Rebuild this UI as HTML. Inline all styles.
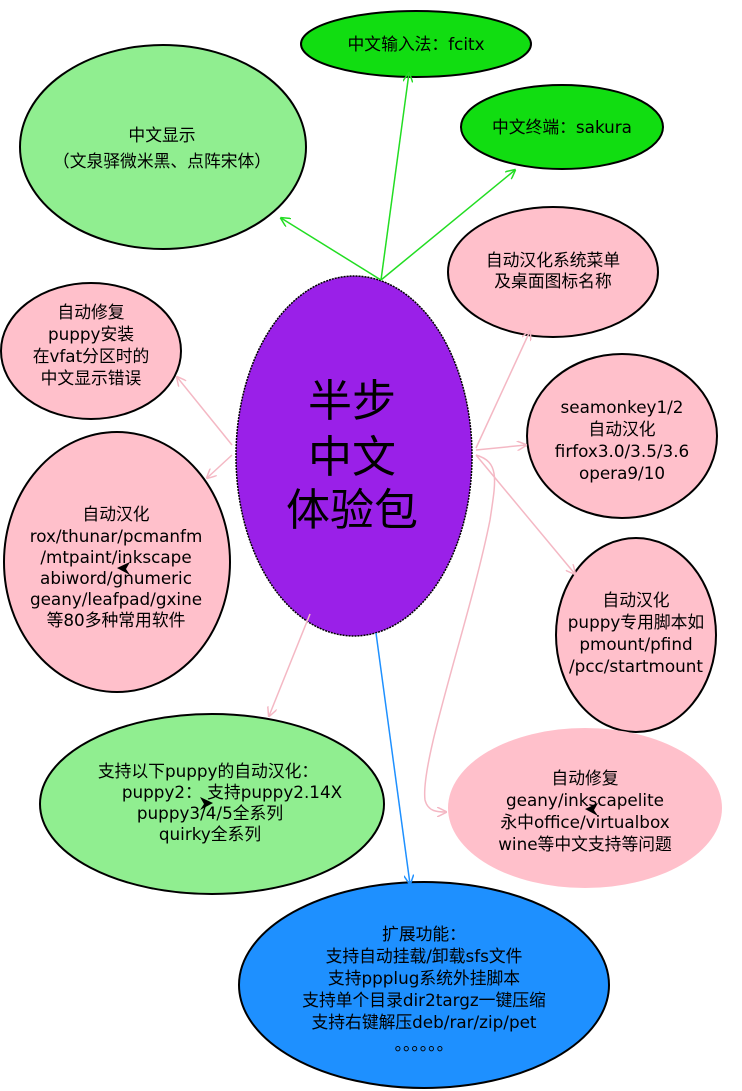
<!DOCTYPE html>
<html><head><meta charset="utf-8"><style>
html,body{margin:0;padding:0;background:#fff;}
svg{display:block;}
text{font-family:"DejaVu Sans","Noto Sans CJK SC",sans-serif;font-size:16.8px;fill:#000;text-anchor:middle;}
</style></head><body>
<svg width="742" height="1091" viewBox="0 0 742 1091" xmlns="http://www.w3.org/2000/svg">
<defs>
<marker id="ag" markerWidth="10" markerHeight="10" refX="9" refY="5" orient="auto" markerUnits="userSpaceOnUse"><path d="M0,0 L10,5 L0,10" fill="none" stroke="#22dd22" stroke-width="1.5"/></marker>
<marker id="ap" markerWidth="10" markerHeight="10" refX="9" refY="5" orient="auto" markerUnits="userSpaceOnUse"><path d="M0,0 L10,5 L0,10" fill="none" stroke="#f4b8c4" stroke-width="1.5"/></marker>
<marker id="ab" markerWidth="10" markerHeight="10" refX="9" refY="5" orient="auto" markerUnits="userSpaceOnUse"><path d="M0,0 L10,5 L0,10" fill="none" stroke="#1e90ff" stroke-width="1.5"/></marker>
</defs>
<g stroke="#000" stroke-width="2">
<ellipse cx="416" cy="44" rx="115" ry="33" fill="#11dd11"/>
<ellipse cx="163" cy="147" rx="143" ry="102" fill="#90ee90"/>
<ellipse cx="562" cy="127" rx="101" ry="42" fill="#11dd11"/>
<ellipse cx="553" cy="272" rx="105" ry="65" fill="#ffc0cb"/>
<ellipse cx="91" cy="351" rx="90" ry="68" fill="#ffc0cb"/>
<ellipse cx="622" cy="436" rx="95" ry="82" fill="#ffc0cb"/>
<ellipse cx="117" cy="562" rx="113" ry="130" fill="#ffc0cb"/>
<ellipse cx="636" cy="635" rx="80" ry="97" fill="#ffc0cb"/>
<ellipse cx="212" cy="804" rx="172" ry="90" fill="#90ee90"/>
<ellipse cx="585" cy="808" rx="137" ry="80" fill="#ffc0cb" stroke="none"/>
<ellipse cx="424" cy="985" rx="185" ry="103" fill="#1e90ff"/>
<ellipse cx="354" cy="456" rx="118" ry="180" fill="#9a20e8" stroke-dasharray="2,1" stroke-width="1.5"/>
</g>
<g stroke-width="1.5" fill="none">
<line x1="381" y1="280" x2="281" y2="218" stroke="#22dd22" marker-end="url(#ag)"/>
<line x1="381" y1="280" x2="409" y2="73" stroke="#22dd22" marker-end="url(#ag)"/>
<line x1="381" y1="280" x2="515" y2="170" stroke="#22dd22" marker-end="url(#ag)"/>
<line x1="232" y1="445" x2="177" y2="377" stroke="#f4b8c4" marker-end="url(#ap)"/>
<line x1="232" y1="455" x2="207" y2="478" stroke="#f4b8c4" marker-end="url(#ap)"/>
<line x1="476" y1="448" x2="530" y2="331" stroke="#f4b8c4" marker-end="url(#ap)"/>
<line x1="476" y1="450" x2="526" y2="445" stroke="#f4b8c4" marker-end="url(#ap)"/>
<line x1="476" y1="455" x2="575" y2="574" stroke="#f4b8c4" marker-end="url(#ap)"/>
<line x1="310" y1="614" x2="269" y2="716" stroke="#f4b8c4" marker-end="url(#ap)"/>
<path d="M476,455 C500,462 496,480 490,520 C470,620 420,760 425,800 C428,812 438,812 446,812" stroke="#f4b8c4" marker-end="url(#ap)"/>
<line x1="376" y1="633" x2="410" y2="884" stroke="#1e90ff" marker-end="url(#ab)"/>
</g>
<path d="M117,568 L130,562 L126,569 L130,575 Z" fill="#000"/>
<path d="M213,803 L200,797 L204,804 L200,810 Z" fill="#000"/>
<path d="M585,809 L598,803 L594,810 L598,816 Z" fill="#000"/>
<text x="416" y="50">中文输入法：fcitx</text>
<text x="162" y="141">中文显示</text>
<text x="162" y="167">（文泉驿微米黑、点阵宋体）</text>
<text x="562" y="133">中文终端：sakura</text>
<text x="553" y="266">自动汉化系统菜单</text>
<text x="553" y="287">及桌面图标名称</text>
<text x="91" y="318">自动修复</text>
<text x="91" y="340">puppy安装</text>
<text x="91" y="362">在vfat分区时的</text>
<text x="91" y="384">中文显示错误</text>
<text x="622" y="413">seamonkey1/2</text>
<text x="622" y="435">自动汉化</text>
<text x="622" y="457">firfox3.0/3.5/3.6</text>
<text x="622" y="479">opera9/10</text>
<text x="116" y="520">自动汉化</text>
<text x="116" y="542">rox/thunar/pcmanfm</text>
<text x="116" y="563">/mtpaint/inkscape</text>
<text x="116" y="584">abiword/gnumeric</text>
<text x="116" y="605">geany/leafpad/gxine</text>
<text x="116" y="626">等80多种常用软件</text>
<text x="636" y="606">自动汉化</text>
<text x="636" y="628">puppy专用脚本如</text>
<text x="636" y="650">pmount/pfind</text>
<text x="636" y="672">/pcc/startmount</text>
<text x="208" y="777">支持以下puppy的自动汉化：</text>
<text x="232" y="798">puppy2：   支持puppy2.14X</text>
<text x="210" y="819">puppy3/4/5全系列</text>
<text x="210" y="840">quirky全系列</text>
<text x="585" y="784">自动修复</text>
<text x="585" y="806">geany/inkscapelite</text>
<text x="585" y="828">永中office/virtualbox</text>
<text x="585" y="850">wine等中文支持等问题</text>
<text x="424" y="940">扩展功能：</text>
<text x="424" y="962">支持自动挂载/卸载sfs文件</text>
<text x="424" y="984">支持ppplug系统外挂脚本</text>
<text x="424" y="1006">支持单个目录dir2targz一键压缩</text>
<text x="424" y="1028">支持右键解压deb/rar/zip/pet</text>
<text x="424" y="1050">。。。。。。</text>
<text x="352" y="416" style="font-size:44px">半步</text>
<text x="352" y="472" style="font-size:44px">中文</text>
<text x="352" y="525" style="font-size:44px">体验包</text>
</svg>
</body></html>
